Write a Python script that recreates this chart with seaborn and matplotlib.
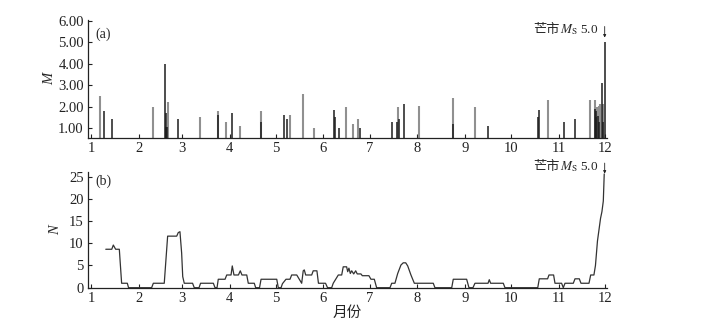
import numpy as np
import pandas as pd
import matplotlib
matplotlib.use('Agg')
import matplotlib.pyplot as plt
import seaborn as sns

# ----------------------------------------------------
# Data (x = day of year, day 0 = 1 Jan)
# ----------------------------------------------------
month_starts = pd.date_range('2019-01-01', '2019-12-01', freq='MS')
month_labels = [str(m) for m in month_starts.month]

# (a) earthquake magnitudes, light bars
gray_days = [5.8, 40.1, 50.0, 70.8, 82.7, 87.7, 96.8, 110.7, 129.1, 137.8,
             144.7, 165.5, 170.4, 173.7, 199.5, 213.1, 235.2, 249.3, 297.0,
             324.1, 327.5, 328.6, 329.9, 331.0, 332.8]
gray_mag = [2.5, 2.0, 2.2, 1.5, 1.8, 1.28, 1.08, 1.8, 1.6, 2.58,
            1.0, 2.0, 1.2, 1.4, 2.0, 2.02, 2.4, 2.0, 2.3,
            2.3, 2.3, 2.0, 2.05, 2.1, 2.1]

# (a) earthquake magnitudes, dark bars
dark_days = [8.6, 13.8, 48.3, 48.6, 49.0, 49.3, 56.3, 82.7, 91.8, 110.7,
             125.2, 127.2, 157.9, 158.5, 161.1, 174.7, 195.4, 198.6, 200.3,
             203.6, 235.2, 258.2, 290.6, 290.9, 307.5, 314.3, 327.5, 327.9,
             328.4, 329.3, 330.2, 332.1, 332.9, 333.8]
dark_mag = [1.8, 1.4, 4.0, 1.7, 1.05, 1.05, 1.4, 1.6, 1.68, 1.3,
            1.6, 1.4, 1.82, 1.5, 1.0, 1.0, 1.28, 1.28, 1.4,
            2.12, 1.2, 1.08, 1.5, 1.82, 1.28, 1.41, 1.9, 1.8,
            1.5, 1.55, 1.3, 3.1, 1.3, 5.0]

# (b) event count N
n_days = [9.6, 13.5, 14.5, 16.0, 18.4, 19.9, 23.6, 24.4, 39.4, 40.5,
          47.6, 49.8, 55.7, 56.7, 57.8, 58.9, 59.6, 60.6, 66.0, 67.1,
          70.2, 71.2, 79.5, 80.6, 81.9, 82.7, 87.1, 88.2, 91.0, 91.8,
          92.9, 95.8, 97.0, 98.1, 101.2, 102.2, 106.1, 107.0, 109.5, 110.5,
          120.7, 121.7, 123.5, 124.4, 126.7, 129.3, 130.4, 133.7, 136.9, 137.9,
          138.6, 139.5, 143.4, 144.4, 146.8, 147.8, 152.4, 153.7, 156.4, 157.4,
          159.0, 160.7, 162.9, 163.9, 166.1, 166.8, 167.6, 168.5, 169.4, 170.7,
          172.0, 173.0, 175.4, 176.3, 180.6, 181.9, 184.1, 185.6, 194.3, 195.4,
          197.5, 199.3, 201.4, 202.9, 204.5, 205.8, 207.9, 210.1, 222.4, 223.5,
          234.4, 235.4, 244.1, 245.6, 248.2, 249.5, 258.0, 258.8, 259.7, 267.9,
          269.0, 290.3, 291.3, 296.7, 297.6, 300.6, 301.5, 305.8, 306.9, 308.0,
          313.4, 314.5, 317.3, 318.4, 323.6, 324.7, 326.8, 327.8, 329.1, 331.1,
          332.0, 332.9, 333.5]
n_vals = [8.65, 8.65, 9.6, 8.65, 8.65, 1.0, 1.0, 0, 0, 1.0,
          1.0, 11.6, 11.6, 12.4, 12.6, 7.8, 2.5, 1.0, 1.0, 0,
          0, 1.0, 1.0, 0, 0, 1.9, 1.9, 2.86, 2.86, 4.9,
          2.86, 2.86, 3.8, 2.86, 2.86, 1.0, 1.0, 0, 0, 1.9,
          1.9, 0, 0, 0.9, 1.9, 1.9, 2.86, 2.86, 1.0, 3.8,
          4.0, 2.86, 2.86, 3.8, 3.8, 1.0, 1.0, 0, 0, 1.0,
          1.9, 2.86, 2.86, 4.7, 4.7, 3.6, 4.4, 3.2, 3.8, 3.1,
          3.8, 3.1, 3.1, 2.7, 2.7, 1.9, 1.9, 0, 0, 1.0,
          1.0, 3.2, 5.1, 5.6, 5.6, 4.9, 2.86, 1.0, 1.0, 0,
          0, 1.9, 1.9, 0, 0, 1.0, 1.0, 1.8, 1.0, 1.0,
          0, 0, 2.0, 2.0, 2.86, 2.86, 1.0, 1.0, 0, 1.0,
          1.0, 2.0, 2.0, 1.0, 1.0, 2.86, 2.86, 5.0, 10.5, 15.6,
          17.1, 19.5, 25.6]

quake_place = '芒市'
quake_mag_label = '$M_{\\mathrm{S}}$ 5.0'

# ----------------------------------------------------
# Style
# ----------------------------------------------------
sns.set_theme(style='ticks')
plt.rcParams['font.family'] = ['Liberation Serif', 'Noto Sans CJK SC']
plt.rcParams['mathtext.fontset'] = 'stix'
plt.rcParams['axes.linewidth'] = 0.9
plt.rcParams['axes.edgecolor'] = '#222222'
cjk = ['Noto Sans CJK SC', 'DejaVu Sans']

tick_days = (month_starts - month_starts[0]).days

fig = plt.figure(figsize=(7.01, 3.31), dpi=100)
ax1 = fig.add_axes([88 / 701, 1 - 138 / 331, 519 / 701, 118 / 331])
ax2 = fig.add_axes([88 / 701, 1 - 287.7 / 331, 519 / 701, 116 / 331])

# (a) magnitude bars
ax1.vlines(gray_days, 0, gray_mag, color='#909090', lw=1.5)
ax1.vlines(dark_days, 0, dark_mag, color='#1c1c1c', lw=1.1)
ax1.set_ylim(0.53, 6.05)
ax1.set_yticks([1, 2, 3, 4, 5, 6])
ax1.set_yticklabels([f'{v:.2f}' for v in [1, 2, 3, 4, 5, 6]])
ax1.set_ylabel('M', style='italic', fontsize=10.5, labelpad=1.5)

# (b) counts
sns.lineplot(x=n_days, y=n_vals, ax=ax2, color='#333333', lw=0.9,
             estimator=None, sort=False, clip_on=False)
ax2.set_ylim(0, 26.1)
ax2.set_yticks([0, 5, 10, 15, 20, 25])
ax2.set_ylabel('N', style='italic', fontsize=10.5, labelpad=5)
ax2.set_xlabel('月份', fontsize=10.5, labelpad=1, family=cjk)

for ax, tag, ty in [(ax1, '(a)', 0.88), (ax2, '(b)', 0.915)]:
    ax.set_xlim(-1.95, 335.3)
    ax.set_xticks(tick_days)
    ax.set_xticklabels(month_labels)
    ax.tick_params(direction='in', length=3, width=0.8, labelsize=10.5,
                   pad=3, colors='#222222')
    sns.despine(ax=ax)
    ax.text(0.014, ty, tag, transform=ax.transAxes, fontsize=10,
            ha='left', va='center')

# quake annotation
q_day, q_mag = dark_days[-1], dark_mag[-1]
for ax, qy, dy in [(ax1, q_mag, 9.0), (ax2, n_vals[-1], 5.3)]:
    m_txt = ax.annotate(quake_mag_label, xy=(q_day, qy), xytext=(-4.7, dy),
                        textcoords='offset points', ha='right', va='center',
                        fontsize=9.5, annotation_clip=False)
    ax.annotate(quake_place, xy=(0, 0.5), xycoords=m_txt, ha='right',
                va='center', fontsize=9.5, family=cjk)
    ax.annotate('', xy=(q_day, qy), xytext=(0, dy + 2.5),
                textcoords='offset points', annotation_clip=False,
                arrowprops=dict(arrowstyle='-|>', lw=0.6, color='#222222',
                                shrinkA=0, shrinkB=dy - 5.5,
                                mutation_scale=4))

fig.savefig('out.png', dpi=100)
